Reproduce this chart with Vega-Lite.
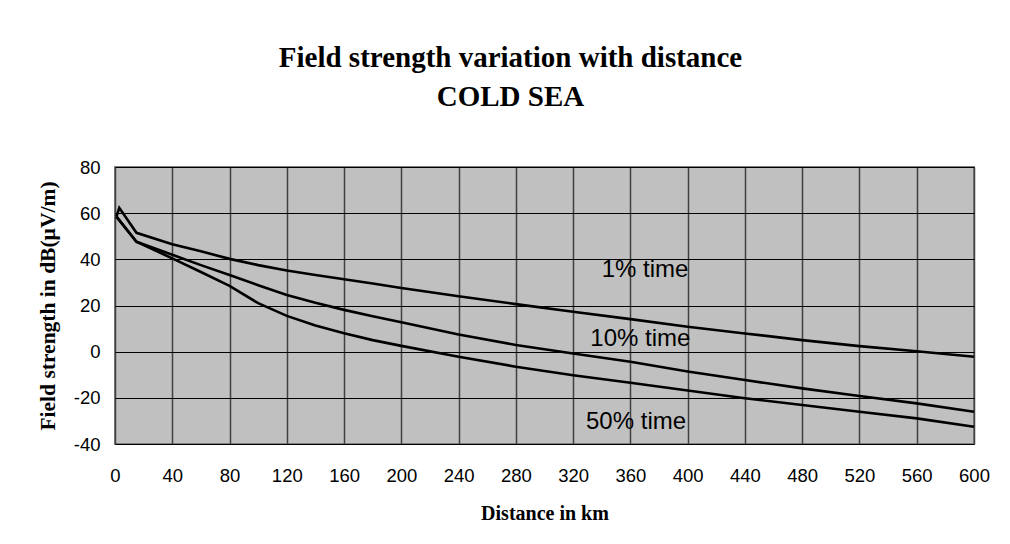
{
  "$schema": "https://vega.github.io/schema/vega-lite/v6.json",
  "width": 859,
  "height": 277,
  "autosize": "none",
  "padding": {"left": 115, "top": 167, "right": 36, "bottom": 100},
  "background": "white",
  "title": {
    "text": ["Field strength variation with distance", "COLD SEA"],
    "font": "Liberation Serif",
    "fontSize": 29,
    "fontWeight": "bold",
    "color": "black",
    "anchor": "middle",
    "frame": "group",
    "dx": -34,
    "lineHeight": 39,
    "offset": 46
  },
  "config": {
    "view": {"fill": "#c0c0c0", "stroke": "#808080", "strokeWidth": 2},
    "axis": {
      "labelFont": "Liberation Sans",
      "labelFontSize": 18.5,
      "labelColor": "black",
      "labelFlush": false,
      "labelOverlap": false,
      "titleFont": "Liberation Serif",
      "titleFontWeight": "bold",
      "titleColor": "black",
      "domain": false,
      "ticks": false
    }
  },
  "datasets": {
    "lines": [
      {"series": "1%", "km": 1, "v": 58.5},
      {"series": "1%", "km": 3, "v": 62.3},
      {"series": "1%", "km": 15, "v": 51.5},
      {"series": "1%", "km": 40, "v": 46.5},
      {"series": "1%", "km": 60, "v": 43.5},
      {"series": "1%", "km": 80, "v": 40.2},
      {"series": "1%", "km": 100, "v": 37.5},
      {"series": "1%", "km": 120, "v": 35.2},
      {"series": "1%", "km": 140, "v": 33.2},
      {"series": "1%", "km": 160, "v": 31.4},
      {"series": "1%", "km": 180, "v": 29.5},
      {"series": "1%", "km": 200, "v": 27.6},
      {"series": "1%", "km": 240, "v": 24.0},
      {"series": "1%", "km": 280, "v": 20.6},
      {"series": "1%", "km": 320, "v": 17.3},
      {"series": "1%", "km": 360, "v": 14.1},
      {"series": "1%", "km": 400, "v": 10.8},
      {"series": "1%", "km": 440, "v": 7.9},
      {"series": "1%", "km": 480, "v": 5.0},
      {"series": "1%", "km": 520, "v": 2.4},
      {"series": "1%", "km": 560, "v": 0.2},
      {"series": "1%", "km": 600, "v": -2.2},
      {"series": "10%", "km": 1, "v": 58.5},
      {"series": "10%", "km": 15, "v": 47.6},
      {"series": "10%", "km": 40, "v": 42.0},
      {"series": "10%", "km": 60, "v": 37.5},
      {"series": "10%", "km": 80, "v": 33.2},
      {"series": "10%", "km": 100, "v": 28.8},
      {"series": "10%", "km": 120, "v": 24.6},
      {"series": "10%", "km": 140, "v": 21.2},
      {"series": "10%", "km": 160, "v": 18.1},
      {"series": "10%", "km": 180, "v": 15.3},
      {"series": "10%", "km": 200, "v": 12.7},
      {"series": "10%", "km": 240, "v": 7.4},
      {"series": "10%", "km": 280, "v": 2.9},
      {"series": "10%", "km": 320, "v": -0.8},
      {"series": "10%", "km": 360, "v": -4.4},
      {"series": "10%", "km": 400, "v": -8.6},
      {"series": "10%", "km": 440, "v": -12.3},
      {"series": "10%", "km": 480, "v": -15.9},
      {"series": "10%", "km": 520, "v": -19.2},
      {"series": "10%", "km": 560, "v": -22.4},
      {"series": "10%", "km": 600, "v": -26.0},
      {"series": "50%", "km": 1, "v": 58.5},
      {"series": "50%", "km": 15, "v": 47.6},
      {"series": "50%", "km": 40, "v": 40.4},
      {"series": "50%", "km": 60, "v": 34.5},
      {"series": "50%", "km": 80, "v": 28.5},
      {"series": "50%", "km": 100, "v": 21.0},
      {"series": "50%", "km": 120, "v": 15.5},
      {"series": "50%", "km": 140, "v": 11.3},
      {"series": "50%", "km": 160, "v": 8.0},
      {"series": "50%", "km": 180, "v": 5.0},
      {"series": "50%", "km": 200, "v": 2.5},
      {"series": "50%", "km": 240, "v": -2.2},
      {"series": "50%", "km": 280, "v": -6.5},
      {"series": "50%", "km": 320, "v": -10.2},
      {"series": "50%", "km": 360, "v": -13.5},
      {"series": "50%", "km": 400, "v": -16.8},
      {"series": "50%", "km": 440, "v": -20.2},
      {"series": "50%", "km": 480, "v": -23.1},
      {"series": "50%", "km": 520, "v": -26.0},
      {"series": "50%", "km": 560, "v": -28.9},
      {"series": "50%", "km": 600, "v": -32.5}
    ],
    "labels": [
      {"label": "1% time", "km": 340, "v": 32.5},
      {"label": "10% time", "km": 332, "v": 2.4},
      {"label": "50% time", "km": 329, "v": -33.5}
    ]
  },
  "layer": [
    {
      "data": {"name": "lines"},
      "mark": {"type": "line", "color": "black", "strokeWidth": 2.6},
      "encoding": {
        "x": {
          "field": "km",
          "type": "quantitative",
          "scale": {"domain": [0, 600], "nice": false},
          "axis": {
            "title": "Distance in km",
            "titleFontSize": 20,
            "values": [0, 40, 80, 120, 160, 200, 240, 280, 320, 360, 400, 440, 480, 520, 560, 600],
            "grid": true,
            "gridColor": "#404040",
            "gridWidth": 1.5,
            "gridOpacity": 1,
            "labelPadding": 22,
            "titlePadding": 19
          }
        },
        "y": {
          "field": "v",
          "type": "quantitative",
          "scale": {"domain": [-40, 80], "nice": false},
          "axis": {
            "title": "Field strength in dB(µV/m)",
            "titleFontSize": 21.5,
            "values": [-40, -20, 0, 20, 40, 60, 80],
            "labelExpr": "'' + datum.value",
            "grid": true,
            "gridColor": "black",
            "gridWidth": 1,
            "gridOpacity": 1,
            "labelPadding": 15,
            "titlePadding": 14
          }
        },
        "detail": {"field": "series"}
      }
    },
    {
      "data": {"name": "labels"},
      "mark": {"type": "text", "font": "Liberation Sans", "fontSize": 24, "align": "left", "baseline": "alphabetic", "color": "black"},
      "encoding": {
        "x": {"field": "km", "type": "quantitative"},
        "y": {"field": "v", "type": "quantitative"},
        "text": {"field": "label"}
      }
    }
  ]
}
